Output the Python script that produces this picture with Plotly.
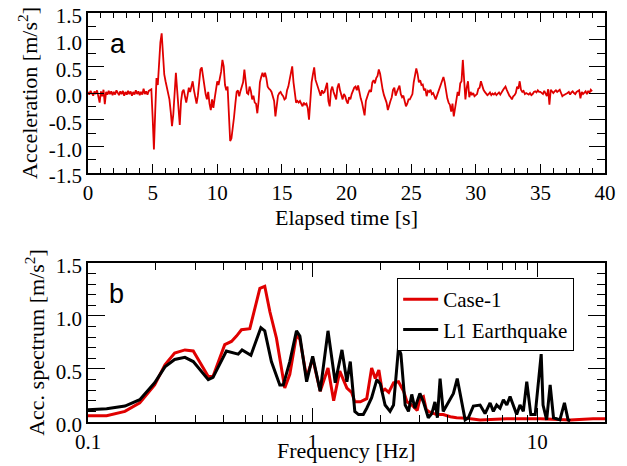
import plotly.graph_objects as go

# ---------------- data ----------------
# (a) acceleration time history, sampled every 0.1 s (values read from the picture)
time_step = 0.1
accel = [
    0.02, -0.03, 0.04, 0.00, -0.05, 0.03, -0.02, 0.05, -0.04, -0.18,
    0.03, -0.06, 0.06, -0.21, 0.02, -0.03, 0.04, -0.02, 0.03, -0.04,
    0.02, -0.03, 0.05, 0.01, -0.04, 0.03, -0.02, 0.04, -0.05, 0.02,
    -0.03, 0.04, -0.02, 0.03, -0.05, 0.02, -0.03, 0.05, -0.02, 0.03,
    -0.04, 0.02, -0.03, 0.08, -0.02, 0.03, -0.03, 0.04, 0.05, 0.07,
    -0.45, -1.06, -0.35, 0.28, 0.15, 0.62, 0.95, 1.12, 0.78, 0.35,
    0.22, 0.08, -0.05, -0.12, -0.35, -0.62, -0.40, 0.10, 0.38, 0.05,
    -0.30, -0.60, -0.15, 0.02, 0.06, -0.05, -0.18, -0.05, 0.10, 0.02,
    0.12, 0.22, 0.05, -0.10, -0.20, -0.05, 0.20, 0.44, 0.48, 0.30,
    0.12, -0.02, -0.12, 0.02, -0.20, -0.32, -0.12, -0.28, -0.10, 0.10,
    0.22, 0.15, 0.25, 0.40, 0.62, 0.50, 0.15, 0.05, 0.12, -0.30,
    -0.90, -0.85, -0.68, -0.45, -0.20, 0.02, 0.05, -0.06, 0.04, 0.12,
    0.20, 0.44, 0.15, 0.00, -0.02, 0.12, 0.04, -0.12, -0.05, -0.18,
    -0.20, -0.38, -0.15, 0.20, 0.30, 0.38, 0.30, 0.38, 0.28, 0.12,
    0.08, 0.06, 0.02, -0.08, -0.15, -0.44, -0.25, -0.05, 0.00, 0.02,
    -0.03, -0.06, -0.12, -0.10, 0.05, 0.12, 0.25, 0.42, 0.50, 0.20,
    0.05, -0.18, -0.15, -0.18, -0.15, -0.20, -0.25, -0.18, -0.22, -0.20,
    -0.28, -0.50, -0.05, 0.20, 0.35, 0.48, 0.25, 0.18, 0.10, 0.06,
    -0.05, 0.05, 0.00, 0.02, 0.10, 0.19, -0.15, -0.25, 0.05, 0.12,
    0.02, -0.05, -0.12, 0.10, 0.18, 0.05, -0.05, -0.12, -0.02, -0.06,
    -0.15, -0.20, -0.08, -0.12, -0.02, 0.06, 0.10, 0.12, 0.05, 0.14,
    -0.02, -0.10, -0.18, -0.30, -0.42, -0.15, -0.05, 0.00, 0.06, 0.02,
    0.20, 0.24, 0.18, 0.28, 0.32, 0.44, 0.36, 0.15, 0.06, -0.04,
    -0.10, -0.18, -0.32, -0.20, -0.15, -0.08, 0.06, 0.10, -0.05, 0.02,
    0.10, 0.14, -0.02, -0.08, -0.05, -0.15, -0.25, -0.20, -0.12, -0.12,
    -0.08, -0.02, 0.20, 0.38, 0.46, 0.36, 0.20, 0.24, 0.15, 0.16,
    0.05, 0.08, -0.06, 0.04, 0.02, 0.06, -0.02, 0.00, -0.08, -0.12,
    -0.05, 0.02, 0.08, 0.16, 0.24, 0.30, 0.20, 0.02, -0.10, -0.18,
    -0.22, -0.35, -0.20, -0.44, -0.30, -0.12, 0.02, -0.05, 0.18, 0.22,
    0.62, 0.25, -0.12, 0.10, 0.22, -0.08, 0.02, -0.04, 0.00, -0.06,
    -0.04, -0.02, 0.08, 0.10, 0.22, 0.12, 0.06, 0.02, -0.02, -0.04,
    -0.02, 0.01, -0.04, -0.01, -0.03, 0.00, -0.04, -0.02, 0.01, -0.03,
    0.00, 0.05, 0.09, 0.12, 0.06, 0.00, -0.05, -0.08, -0.12, -0.06,
    -0.04, 0.00, 0.12, 0.08, 0.22, 0.06, 0.02, 0.04, -0.02, 0.00,
    -0.02, -0.03, 0.00, -0.04, -0.02, 0.02, 0.03, 0.01, 0.05, 0.02,
    0.02, 0.00, -0.02, 0.04, -0.03, -0.06, 0.07, -0.22, 0.06, 0.02,
    0.00, 0.03, 0.05, 0.02, 0.04, 0.06, 0.00, -0.06, -0.04, -0.03,
    -0.02, 0.00, 0.02, -0.03, 0.01, 0.03, 0.00, -0.02, 0.02, 0.04,
    0.05, -0.10, 0.02, -0.02, 0.01, 0.03, -0.02, 0.04, 0.00, 0.06,
    0.03,
]
elapsed_time = [round(i * time_step, 2) for i in range(len(accel))]

# (b) acceleration spectra
case1_freq = [0.10, 0.121, 0.146, 0.17, 0.198, 0.22, 0.243, 0.27, 0.294, 0.32,
              0.343, 0.36, 0.406, 0.435, 0.458, 0.482, 0.525, 0.582, 0.612, 0.645,
              0.69, 0.751, 0.791, 0.847, 0.877, 0.94, 1.0, 1.08, 1.17, 1.24,
              1.32, 1.42, 1.49, 1.54, 1.63, 1.74, 1.83, 1.90, 1.97, 2.04,
              2.10, 2.18, 2.29, 2.41, 2.54, 2.63, 2.76, 2.92, 3.0, 3.11,
              3.2, 3.27, 3.56, 3.81, 4.1, 4.37, 4.85, 5.56, 7.3, 10.3,
              14.0, 17.7, 20.0]
case1_acc = [0.06, 0.06, 0.10, 0.18, 0.35, 0.54, 0.65, 0.68, 0.67, 0.54,
             0.43, 0.43, 0.73, 0.76, 0.81, 0.87, 0.88, 1.26, 1.28, 1.04,
             0.79, 0.32, 0.45, 0.82, 0.78, 0.42, 0.60, 0.29, 0.51, 0.20,
             0.48, 0.32, 0.28, 0.19, 0.19, 0.22, 0.51, 0.41, 0.49, 0.29,
             0.31, 0.28, 0.37, 0.38, 0.29, 0.19, 0.16, 0.11, 0.22, 0.24,
             0.12, 0.10, 0.07, 0.07, 0.05, 0.04, 0.035, 0.02, 0.03, 0.03,
             0.02, 0.03, 0.03]

l1_freq = [0.10, 0.121, 0.146, 0.17, 0.198, 0.22, 0.243, 0.27, 0.294, 0.32,
           0.343, 0.36, 0.413, 0.466, 0.485, 0.531, 0.588, 0.612, 0.655, 0.714,
           0.74, 0.791, 0.847, 0.877, 0.94, 1.0, 1.08, 1.17, 1.26, 1.35,
           1.42, 1.47, 1.54, 1.60, 1.68, 1.74, 1.83, 1.93, 2.0, 2.1,
           2.21, 2.29, 2.41, 2.47, 2.58, 2.67, 2.76, 2.85, 3.0, 3.11,
           3.27, 3.39, 3.5, 3.59, 3.69, 3.81, 4.02, 4.23, 4.4, 4.56,
           4.77, 4.93, 5.19, 5.56, 5.85, 6.16, 6.37, 6.59, 6.82, 7.06,
           7.31, 7.56, 7.82, 8.09, 8.37, 8.66, 8.97, 9.35, 9.78, 10.1,
           10.4, 10.6, 11.0, 11.4, 11.8, 12.6, 13.2, 13.7, 14.0]
l1_acc = [0.116, 0.125, 0.15, 0.21, 0.37, 0.52, 0.59, 0.61, 0.57, 0.48,
          0.40, 0.42, 0.67, 0.64, 0.68, 0.63, 0.89, 0.86, 0.57, 0.35,
          0.35, 0.57, 0.86, 0.81, 0.38, 0.62, 0.29, 0.86, 0.37, 0.68,
          0.38, 0.57, 0.10, 0.07, 0.07, 0.13, 0.23, 0.40, 0.36, 0.16,
          0.10, 0.16, 0.70, 0.64, 0.16, 0.10, 0.26, 0.13, 0.27, 0.19,
          0.04, 0.08, 0.19, 0.04, 0.41, 0.10, 0.19, 0.27, 0.41, 0.23,
          0.02, 0.04, 0.15, 0.16, 0.08, 0.18, 0.10, 0.16, 0.13, 0.21,
          0.16, 0.24, 0.16, 0.07, 0.16, 0.10, 0.38, 0.07, 0.07, 0.35,
          0.64, 0.16, 0.02, 0.35, 0.04, 0.02, 0.18, 0.02, 0.01]

# tick labels
acc_tickvals = [-1.5, -1.0, -0.5, 0.0, 0.5, 1.0, 1.5]
acc_ticktext = ["-1.5", "-1.0", "-0.5", "0.0", "0.5", "1.0", "1.5"]
time_tickvals = [0, 5, 10, 15, 20, 25, 30, 35, 40]
spec_tickvals = [0.0, 0.5, 1.0, 1.5]
spec_ticktext = ["0.0", "0.5", "1.0", "1.5"]
freq_tickvals = [0.1, 1, 10]
freq_ticktext = ["0.1", "1", "10"]

# ---------------- figure ----------------
RED = "#e00000"
SERIF = "Times New Roman, Liberation Serif, Times, serif"
SANS = "Arial, Liberation Sans, Helvetica, sans-serif"
TICK_FS = 21
TITLE_FS = 22

fig = go.Figure()
fig.add_trace(go.Scatter(x=elapsed_time, y=accel, mode="lines",
                         line=dict(color=RED, width=1.8),
                         xaxis="x", yaxis="y", showlegend=False))
fig.add_trace(go.Scatter(x=case1_freq, y=case1_acc, mode="lines", name="Case-1",
                         line=dict(color=RED, width=3),
                         xaxis="x2", yaxis="y2"))
fig.add_trace(go.Scatter(x=l1_freq, y=l1_acc, mode="lines", name="L1 Earthquake",
                         line=dict(color="black", width=3),
                         xaxis="x2", yaxis="y2"))

axis_common = dict(showline=True, linecolor="black", linewidth=1.5, mirror="ticks",
                   ticks="inside", tickcolor="black", tickwidth=1,
                   showgrid=False, zeroline=False, automargin=False,
                   ticklabeloverflow="allow",
                   tickfont=dict(family=SERIF, size=TICK_FS, color="black"))

fig.update_layout(
    width=619, height=458,
    margin=dict(l=80, r=22, t=5, b=44, autoexpand=False),
    paper_bgcolor="white", plot_bgcolor="white",
    font=dict(family=SERIF, size=TITLE_FS, color="black"),
    xaxis=dict(domain=[0, 1], anchor="y", range=[0, 40],
               tickmode="array", tickvals=time_tickvals, ticklen=9,
               minor=dict(dtick=1, ticklen=5, ticks="inside", tickcolor="black"),
               **axis_common),
    yaxis=dict(domain=[0.6088, 1], anchor="x", range=[-1.5, 1.5],
               tickmode="array", tickvals=acc_tickvals, ticktext=acc_ticktext, ticklen=16,
               ticklabelshift=3,
               minor=dict(dtick=0.25, tick0=0, ticklen=8, ticks="inside", tickcolor="black"),
               title=dict(text="Acceleration [m/s<sup>2</sup>]",
                          font=dict(family=SERIF, size=TITLE_FS), standoff=5),
               **axis_common),
    xaxis2=dict(domain=[0, 1], anchor="y2", type="log", range=[-1, 1.30103],
                tickmode="array", tickvals=freq_tickvals, ticktext=freq_ticktext, ticklen=14,
                minor=dict(dtick="D1", ticklen=7, ticks="inside", tickcolor="black"),
                **axis_common),
    yaxis2=dict(domain=[0, 0.3888], anchor="x2", range=[0, 1.5],
                tickmode="array", tickvals=spec_tickvals, ticktext=spec_ticktext, ticklen=17,
                ticklabelshift=3,
                minor=dict(dtick=0.1, tick0=0, ticklen=8, ticks="inside", tickcolor="black"),
                title=dict(text="Acc. spectrum [m/s<sup>2</sup>]",
                           font=dict(family=SERIF, size=TITLE_FS), standoff=5),
                **axis_common),
    legend=dict(x=0.598, y=0.352, xanchor="left", yanchor="top",
                bordercolor="black", borderwidth=1, bgcolor="white",
                itemwidth=35,
                font=dict(family=SERIF, size=TICK_FS), tracegroupgap=0),
    annotations=[
        dict(text="Elapsed time [s]", xref="paper", yref="paper", x=0.5, y=0.500,
             xanchor="center", yanchor="middle", showarrow=False,
             font=dict(family=SERIF, size=TITLE_FS, color="black")),
        dict(text="Frequency [Hz]", xref="paper", yref="paper", x=0.5, y=-0.0697,
             xanchor="center", yanchor="middle", showarrow=False,
             font=dict(family=SERIF, size=TITLE_FS, color="black")),
        dict(text="a", xref="paper", yref="paper", x=0.058, y=0.924,
             xanchor="center", yanchor="middle", showarrow=False,
             font=dict(family=SANS, size=27, color="black")),
        dict(text="b", xref="paper", yref="paper", x=0.056, y=0.313,
             xanchor="center", yanchor="middle", showarrow=False,
             font=dict(family=SANS, size=27, color="black")),
    ],
)

fig.write_html("out.html")
